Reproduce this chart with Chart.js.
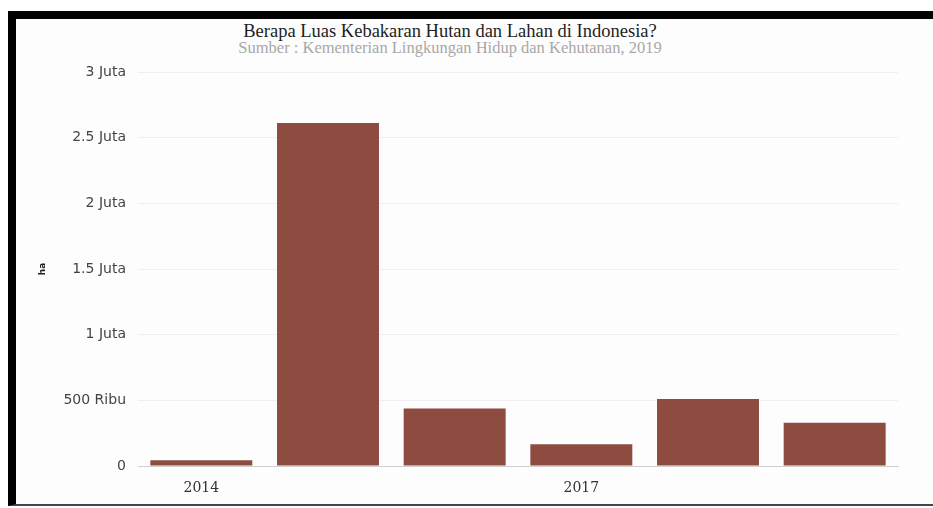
<!DOCTYPE html>
<html>
<head>
<meta charset="utf-8">
<script src="https://cdn.jsdelivr.net/npm/chart.js@4"></script>
<style>
  body { margin: 0; background: #fff; width: 933px; height: 508px; overflow: hidden; position: relative; }
  #frame { position: absolute; left: 8px; top: 11px; width: 925px; height: 495px; border-top: 8px solid #000; border-left: 8px solid #000; border-bottom: 2px solid #444; box-sizing: border-box; background: #fdfdfd; }
  .ttl { position: absolute; left: 0; width: 900px; text-align: center; font-family: "Liberation Serif", serif; white-space: nowrap; }
  #title { top: 21px; font-size: 18.5px; color: #1e1e1e; }
  #subtitle { top: 38px; font-size: 16.5px; color: #a8a8a8; }
  #wrap { position: absolute; left: 16px; top: 19px; width: 917px; height: 487px; }
</style>
</head>
<body>
<div id="frame"></div>
<div class="ttl" id="title">Berapa Luas Kebakaran Hutan dan Lahan di Indonesia?</div>
<div class="ttl" id="subtitle">Sumber : Kementerian Lingkungan Hidup dan Kehutanan, 2019</div>
<div id="wrap"><canvas id="graf"></canvas></div>
<script>
const years = ['2014', '2015', '2016', '2017', '2018', '2019']
const luas = [44411, 2611411, 438363, 165484, 510564, 328724]
const shownYears = ['2014', '2017']
const yTicks = { 0: '0', 500000: '500 Ribu', 1000000: '1 Juta', 1500000: '1.5 Juta', 2000000: '2 Juta', 2500000: '2.5 Juta', 3000000: '3 Juta' }

const graph = document.getElementById('graf')
new Chart(graph, {
  type: 'bar',
  data: {
    labels: years,
    datasets: [{
      data: luas,
      backgroundColor: '#8e4b3f',
      categoryPercentage: 1,
      barPercentage: 0.805
    }]
  },
  options: {
    responsive: true,
    maintainAspectRatio: false,
    animation: false,
    layout: { padding: { top: 53, right: 35, left: 0, bottom: 0 } },
    plugins: {
      legend: { display: false },
      tooltip: { enabled: false }
    },
    scales: {
      x: {
        grid: { display: false, drawTicks: false },
        border: { color: '#cfcfcf', width: 1 },
        ticks: {
          padding: 14,
          color: '#333',
          font: { family: 'DejaVu Serif', size: 14 },
          autoSkip: false,
          maxRotation: 0,
          callback: function(value) {
            let lab = this.getLabelForValue(value)
            return shownYears.includes(lab) ? lab : ''
          }
        },
        afterFit: function(scale) { scale.height = 40 }
      },
      y: {
        min: 0,
        max: 3000000,
        grid: { color: '#efefef', drawTicks: false },
        border: { display: false },
        ticks: {
          stepSize: 500000,
          padding: 12,
          color: '#444',
          font: { family: 'DejaVu Sans', size: 14 },
          callback: function(value) { return yTicks[value] }
        },
        title: {
          display: true,
          text: 'ha',
          color: '#222',
          font: { family: 'DejaVu Sans', size: 9, weight: 'bold' },
          padding: { top: 21, bottom: 0 }
        },
        afterFit: function(scale) { scale.width = 122 }
      }
    }
  }
})
</script>
</body>
</html>
